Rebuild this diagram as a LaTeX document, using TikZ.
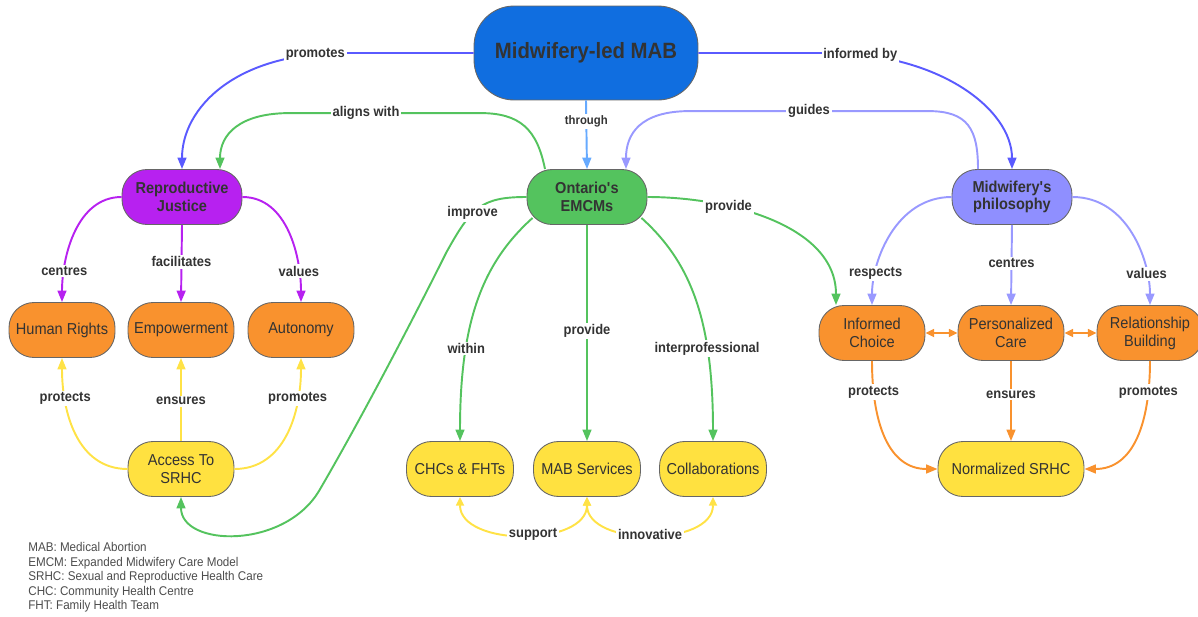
\documentclass[tikz,border=0pt]{standalone}
\usepackage{fontspec}
\setmainfont{Liberation Sans}[FakeStretch=0.92]
\usepackage{xcolor}
\usetikzlibrary{arrows.meta, positioning, calc}

\definecolor{titleblue}{RGB}{16,110,224}
\definecolor{rjpurple}{RGB}{183,33,240}
\definecolor{emgreen}{RGB}{84,195,94}
\definecolor{mplav}{RGB}{143,143,255}
\definecolor{boxorange}{RGB}{249,146,46}
\definecolor{boxyellow}{RGB}{255,225,64}
\definecolor{edgeblue}{RGB}{90,90,255}
\definecolor{edgesky}{RGB}{102,170,255}
\definecolor{edgelav}{RGB}{153,153,255}
\definecolor{edgeyellow}{RGB}{255,226,70}
\definecolor{txtgray}{RGB}{51,51,51}

\begin{document}
\begin{tikzpicture}[x=0.02cm, y=-0.02cm,
    box/.style={draw=black!60, line width=0.5pt, rounded corners=0.5cm, minimum width=2.12cm, minimum height=1.1cm, inner sep=0pt, align=center, text=txtgray, font=\fontsize{9}{10.3}\selectfont},
    keybox/.style={box, minimum width=2.4cm, font=\fontsize{9}{10}\selectfont\bfseries},
    lbl/.style={fill=white, inner sep=1pt, text=txtgray, font=\fontsize{8}{9}\selectfont\bfseries},
    conn/.style={line width=1.1pt, -{Triangle[length=6.5pt,width=5pt]}},
    dconn/.style={line width=1.1pt, {Triangle[length=5pt,width=4.5pt]}-{Triangle[length=5pt,width=4.5pt]}}]
\useasboundingbox (0,0) rectangle (1198,616);

% main nodes
\node[box, fill=titleblue, minimum width=4.48cm, minimum height=1.88cm, rounded corners=0.8cm, font=\fontsize{12.6}{14}\selectfont\bfseries] (mab) at (586,53) {Midwifery-led MAB};
\node[keybox, fill=rjpurple] (rj) at (182,197) {Reproductive\\Justice};
\node[keybox, fill=emgreen] (emcm) at (587,197) {Ontario\textquotesingle s\\EMCMs};
\node[keybox, fill=mplav] (mp) at (1012,197) {Midwifery\textquotesingle s\\philosophy};

% orange boxes
\foreach \nm/\x/\txt in {hr/62/Human Rights, emp/181/Empowerment, aut/301/Autonomy}
    \node[box, fill=boxorange] (\nm) at (\x,330) {\txt};
\foreach \nm/\x/\txt in {ic/872/Informed\\Choice, pc/1011/Personalized\\Care, rb/1150/Relationship\\Building}
    \node[box, fill=boxorange] (\nm) at (\x,333) {\txt};

% yellow boxes
\node[box, fill=boxyellow] (acc) at (181,469) {Access To\\SRHC};
\foreach \nm/\x/\txt in {chc/460/CHCs \& FHTs, mabs/587/MAB Services, collab/713/Collaborations}
    \node[box, fill=boxyellow, minimum width=2.14cm] (\nm) at (\x,469) {\txt};
\node[box, fill=boxyellow, minimum width=2.92cm] (norm) at (1011,469) {Normalized SRHC};

% from the top
\draw[conn, edgeblue] (mab.west) -- ++(-130,0) .. controls +(-110,0) and +(0,-60) .. (rj.north) node[lbl, pos=0.09] {promotes};
\draw[conn, edgeblue] (mab.east) -- ++(130,0) .. controls +(110,0) and +(0,-60) .. (mp.north) node[lbl, pos=0.1] {informed by};
\draw[conn, edgesky] (mab.south) -- (emcm.north) node[lbl, pos=0.3, font=\fontsize{7}{8}\selectfont\bfseries] {through};
\draw[conn, emgreen] ($(emcm.north)+(-42,0)$) .. controls +(-8,-40) and +(40,0) .. ++(-65,-56) -- ++(-190,0) node[lbl, pos=0.6] {aligns with} .. controls +(-50,0) and +(0,-35) .. ($(rj.north)+(38,0)$);
\draw[conn, edgelav] ($(mp.north)+(-34,0)$) .. controls +(0,-40) and +(40,0) .. ++(-50,-58) -- ++(-238,0) node[lbl, midway] {guides} .. controls +(-50,0) and +(0,-35) .. ($(emcm.north)+(39,0)$);

% reproductive justice
\draw[conn, rjpurple] (rj.west) .. controls +(-45,0) and +(0,-45) .. (hr.north) node[lbl, pos=0.78] {centres};
\draw[conn, rjpurple] (rj.south) -- (emp.north) node[lbl, pos=0.48] {facilitates};
\draw[conn, rjpurple] (rj.east) .. controls +(45,0) and +(0,-45) .. (aut.north) node[lbl, pos=0.78] {values};

% access to SRHC
\draw[conn, edgeyellow] (acc.west) .. controls +(-50,0) and +(0,55) .. (hr.south) node[lbl, pos=0.75] {protects};
\draw[conn, edgeyellow] (acc.north) -- (emp.south) node[lbl, pos=0.48] {ensures};
\draw[conn, edgeyellow] (acc.east) .. controls +(50,0) and +(0,55) .. (aut.south) node[lbl, pos=0.75] {promotes};

% EMCMs
\draw[conn, emgreen] (emcm.west) .. controls +(-45,0) and +(25,-45) .. ++(-80,55) node[lbl, pos=0.6] {improve} .. controls +(-45,90) and +(35,-60) .. ++(-127,238) .. controls +(-35,60) and +(0,50) .. (acc.south);
\draw[conn, emgreen] ($(emcm.south west)+(6,-7)$) .. controls +(-50,45) and +(0,-120) .. (chc.north) node[lbl, pos=0.7] {within};
\draw[conn, emgreen] (emcm.south) -- (mabs.north) node[lbl, pos=0.49] {provide};
\draw[conn, emgreen] ($(emcm.south east)+(-6,-7)$) .. controls +(50,45) and +(0,-120) .. (collab.north) node[lbl, pos=0.7] {interprofessional};
\draw[conn, emgreen] (emcm.east) .. controls +(80,0) and +(0,-80) .. ($(ic.north)+(-36,0)$) node[lbl, pos=0.32] {provide};
\draw[dconn, edgeyellow] (chc.south) .. controls +(0,50) and +(0,50) .. (mabs.south) node[lbl, pos=0.55] {support};
\draw[dconn, edgeyellow] (mabs.south) .. controls +(0,50) and +(0,50) .. (collab.south) node[lbl, pos=0.5] {innovative};

% philosophy
\draw[conn, edgelav] (mp.west) .. controls +(-55,0) and +(0,-45) .. (ic.north) node[lbl, pos=0.78] {respects};
\draw[conn, edgelav] (mp.south) -- (pc.north) node[lbl, pos=0.48] {centres};
\draw[conn, edgelav] (mp.east) .. controls +(55,0) and +(0,-45) .. (rb.north) node[lbl, pos=0.78] {values};
\draw[dconn, boxorange] (ic) -- (pc);
\draw[dconn, boxorange] (pc) -- (rb);
\draw[conn, boxorange] (ic.south) .. controls +(0,60) and +(-50,0) .. (norm.west) node[lbl, pos=0.18] {protects};
\draw[conn, boxorange] (pc.south) -- (norm.north) node[lbl, pos=0.42] {ensures};
\draw[conn, boxorange] (rb.south) .. controls +(0,60) and +(50,0) .. (norm.east) node[lbl, pos=0.18] {promotes};

% legend
\node[anchor=north west, align=left, inner sep=0pt, text=black!70, font=\fontsize{7.2}{8.3}\selectfont] (legend) at (28,542) {MAB: Medical Abortion\\EMCM: Expanded Midwifery Care Model\\SRHC: Sexual and Reproductive Health Care\\CHC: Community Health Centre\\FHT: Family Health Team};
\end{tikzpicture}
\end{document}
